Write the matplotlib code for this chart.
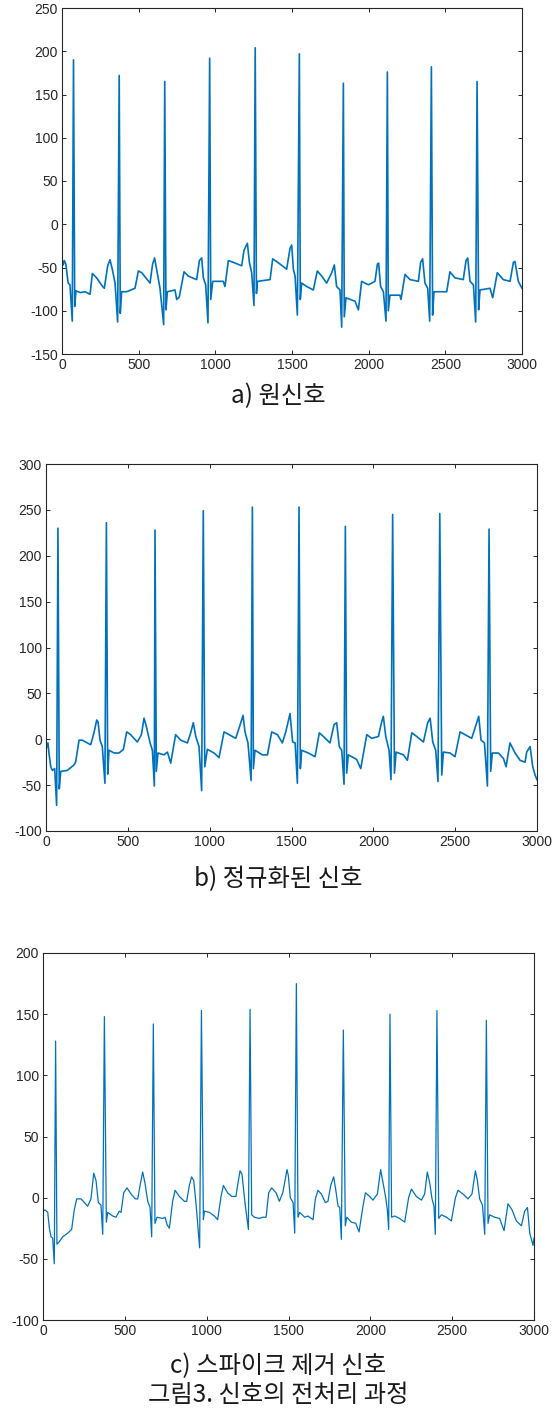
import matplotlib
matplotlib.use("Agg")
import matplotlib.pyplot as plt

plt.rcParams["axes.unicode_minus"] = False

# a) raw signal (sample index, amplitude)
raw_t = [0, 8, 15, 25, 35, 40, 52, 67, 75, 83, 91, 120, 150, 183, 198, 226, 265, 276, 298, 313, 328, 346,
         363, 373, 380, 389, 422, 476, 498, 520, 574, 591, 604, 617, 639,
         663, 670, 678, 687, 737, 748, 765, 796, 824, 878, 896, 911, 922, 937,
         952, 963, 970, 983, 1052, 1063, 1085, 1117, 1172, 1187, 1209, 1222, 1237,
         1252, 1260, 1268, 1275, 1357, 1374, 1422, 1465, 1487, 1498, 1509, 1520,
         1535, 1548, 1554, 1563, 1596, 1639, 1665, 1694, 1726, 1759, 1776, 1791, 1813,
         1824, 1835, 1841, 1852, 1911, 1933, 1954, 1998, 2041, 2057, 2065, 2078, 2096,
         2113, 2122, 2128, 2139, 2204, 2211, 2237, 2270, 2324, 2339, 2352, 2367, 2385,
         2398, 2409, 2417, 2426, 2509, 2530, 2563, 2617, 2635, 2646, 2661, 2683,
         2698, 2707, 2717, 2726, 2791, 2809, 2839, 2878, 2922, 2944, 2954, 2976, 3000]
raw_v = [-40, -47, -42, -46, -60, -68, -70, -112, 190, -95, -77, -79, -78, -81, -57, -62, -72, -74, -48, -41, -52, -68,
         -113, 172, -103, -78, -78, -74, -54, -56, -68, -46, -39, -52, -74,
         -116, 165, -99, -78, -76, -87, -84, -55, -60, -64, -42, -39, -62, -70,
         -114, 192, -87, -66, -66, -72, -42, -44, -48, -30, -22, -44, -56,
         -94, 204, -80, -66, -64, -40, -46, -52, -28, -24, -52, -60,
         -105, 197, -87, -68, -72, -76, -54, -60, -68, -56, -47, -72, -76,
         -119, 163, -107, -85, -89, -99, -66, -70, -66, -46, -45, -72, -78,
         -112, 176, -100, -82, -82, -87, -58, -64, -66, -44, -40, -68, -74,
         -112, 182, -105, -78, -78, -55, -62, -64, -42, -39, -66, -70,
         -113, 165, -99, -76, -74, -85, -56, -64, -66, -44, -43, -66, -74]

# b) normalised signal
norm_t = [0, 4, 12, 18, 29, 39, 53, 65, 73, 81, 90, 130, 171, 181, 202, 222, 253, 273, 293, 310, 318, 330, 344,
          360, 369, 377, 385, 416, 446, 473, 493, 517, 558, 583, 599, 613, 636, 650,
          662, 666, 674, 684, 721, 742, 762, 792, 823, 864, 884, 900, 915, 935,
          951, 961, 970, 986, 1027, 1057, 1088, 1118, 1159, 1183, 1204, 1216, 1234,
          1253, 1261, 1267, 1277, 1322, 1353, 1379, 1414, 1444, 1465, 1491, 1507, 1522,
          1536, 1546, 1554, 1562, 1603, 1644, 1670, 1695, 1735, 1760, 1776, 1792, 1807,
          1821, 1829, 1837, 1847, 1898, 1923, 1960, 1990, 2031, 2051, 2061, 2076, 2096,
          2108, 2118, 2129, 2139, 2184, 2208, 2235, 2265, 2306, 2332, 2347, 2363, 2381,
          2395, 2406, 2418, 2428, 2469, 2499, 2530, 2560, 2601, 2628, 2644, 2658, 2679,
          2697, 2707, 2717, 2727, 2764, 2795, 2811, 2835, 2866, 2897, 2927, 2937, 2958, 2974, 2988, 3000]
norm_v = [-12, -8, -4, -15, -30, -34, -32, -72, 230, -54, -35, -34, -28, -25, -1, -1, -4, -6, 7, 21, 19, -1, -8,
          -48, 236, -38, -12, -15, -15, -11, 8, 5, -3, 5, 23, 14, -4, -12,
          -51, 228, -35, -15, -17, -14, -26, 5, -1, -4, 7, 18, 3, -8,
          -56, 249, -30, -11, -15, -20, 8, 5, 1, 14, 26, 8, -4,
          -45, 253, -32, -12, -17, -17, 8, 5, -4, 8, 28, -3, -4,
          -48, 253, -32, -12, -15, -19, 7, 3, -4, 16, 18, -8, -12,
          -49, 232, -37, -17, -22, -32, 5, 1, 3, 19, 25, 3, -12,
          -44, 245, -37, -14, -17, -23, 7, 3, -3, 18, 23, -3, -12,
          -46, 246, -39, -14, -15, -19, 8, 5, 1, 16, 25, -1, -4,
          -51, 229, -35, -15, -15, -21, -30, -4, -15, -23, -25, -14, -8, -30, -39, -44]

# c) spike-removed signal
clean_t = [0, 12, 29, 39, 49, 59, 69, 77, 85, 100, 120, 151, 175, 191, 206, 232, 253, 273, 293, 310, 324, 338, 354,
           365, 375, 387, 395, 426, 446, 466, 477, 493, 513, 538, 564, 579, 593, 609, 623, 640, 654,
           664, 674, 684, 697, 731, 746, 758, 772, 792, 807, 833, 864, 878, 894, 908, 921, 935,
           957, 968, 980, 986, 1016, 1047, 1067, 1088, 1102, 1128, 1153, 1179, 1190, 1204, 1216, 1234,
           1255, 1265, 1275, 1292, 1322, 1342, 1363, 1379, 1397, 1424, 1444, 1465, 1491, 1499, 1511, 1528,
           1538, 1548, 1558, 1568, 1599, 1619, 1650, 1664, 1680, 1701, 1725, 1741, 1758, 1776, 1788, 1803, 1813,
           1823, 1835, 1847, 1856, 1884, 1911, 1931, 1955, 1970, 1996, 2016, 2043, 2063, 2078, 2094, 2104,
           2112, 2120, 2130, 2149, 2179, 2210, 2234, 2251, 2281, 2312, 2332, 2348, 2363, 2377, 2389,
           2397, 2407, 2418, 2434, 2465, 2495, 2520, 2536, 2566, 2597, 2621, 2642, 2654, 2668, 2685,
           2699, 2709, 2719, 2729, 2760, 2790, 2817, 2841, 2866, 2892, 2923, 2943, 2960, 2974, 2994, 3000]
clean_v = [-11, -10, -12, -25, -32, -33, -54, 128, -38, -36, -32, -29, -26, -10, -1, -1, -4, -7, -1, 20, 14, -4, -6,
           -30, 148, -20, -12, -15, -16, -11, -12, 4, 8, 3, -1, -1, 10, 21, 12, -3, -8,
           -32, 142, -21, -16, -17, -16, -22, -25, -3, 6, 1, -3, -3, 10, 17, 14, -5,
           -41, 153, -18, -11, -12, -15, -18, 1, 10, 4, 1, 1, 11, 22, 19, -4,
           -26, 154, -14, -16, -17, -16, -16, 4, 8, 4, -3, 4, 23, 18, 0, -4,
           -29, 175, -16, -12, -16, -15, -18, -1, 6, 3, -4, -3, 10, 17, 7, -7, -8,
           -34, 137, -23, -16, -20, -21, -28, -7, 4, 1, -2, 3, 23, 12, 0, -10,
           -26, 150, -16, -15, -17, -20, 0, 7, 1, -2, 3, 21, 12, -1, -7,
           -30, 153, -17, -14, -16, -19, 0, 6, 3, -1, 3, 22, 14, -1, -6,
           -30, 145, -21, -14, -16, -17, -27, -5, -10, -19, -23, -11, -8, -29, -39, -33]

captions = ["a) 원신호", "b) 정규화된 신호", "c) 스파이크 제거 신호"]
fig_caption = "그림3. 신호의 전처리 과정"
ylims = [(-150, 250), (-100, 300), (-100, 200)]

LINE_COLOR = "#0072BD"
AX_COLOR = "#262626"
KR_FONT = ["Noto Sans CJK KR", "DejaVu Sans"]

fig = plt.figure(figsize=(5.54, 14.10), dpi=100)

# axes boxes in pixels (left, top, right, bottom), converted below
boxes = [(62, 8, 522, 354), (46, 464, 537, 831), (43, 953, 534, 1320)]
caption_y = [396, 879, 1366]
W, H = 554, 1410

series = [(raw_t, raw_v, 1.2), (norm_t, norm_v, 1.2), (clean_t, clean_v, 0.9)]

for (l, t, r, b), (xs, ys, lw), ylim, cap, cy in zip(boxes, series, ylims, captions, caption_y):
    ax = fig.add_axes([l / W, 1 - b / H, (r - l) / W, (b - t) / H])
    ax.plot(xs, ys, color=LINE_COLOR, linewidth=lw)
    ax.set_xlim(0, 3000)
    ax.set_ylim(*ylim)
    ax.set_xticks(range(0, 3001, 500))
    ax.set_yticks(range(ylim[0], ylim[1] + 1, 50))
    ax.tick_params(direction="in", length=3, width=0.7, top=True, right=True,
                   labelsize=10, colors=AX_COLOR, pad=3)
    for lab in ax.get_xticklabels() + ax.get_yticklabels():
        lab.set_fontfamily("Liberation Sans")
    for sp in ax.spines.values():
        sp.set_color(AX_COLOR)
        sp.set_linewidth(0.8)
    fig.text(278 / W, 1 - cy / H, cap, ha="center", va="center",
             fontsize=17.5, family=KR_FONT, color="#1a1a1a")

fig.text(278 / W, 1 - 1395 / H, fig_caption, ha="center", va="center",
         fontsize=17.5, family=KR_FONT, color="#1a1a1a")

fig.savefig("out.png", dpi=100)
